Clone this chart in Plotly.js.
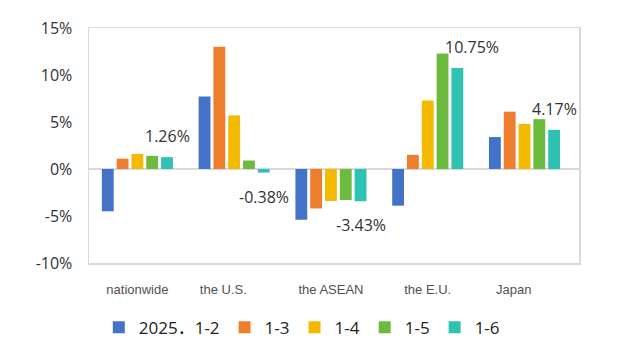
<!DOCTYPE html>
<html>
<head>
<meta charset="utf-8">
<script src="https://cdn.plot.ly/plotly-3.0.1.min.js"></script>
<style>html,body{margin:0;padding:0;background:#fff;}#chart{width:624px;height:357px;}</style>
</head>
<body>
<div id="chart"></div>
<script>
const categories = ['nationwide', 'the U.S.', 'the ASEAN', 'the E.U.', 'Japan'];
const seriesNames = ['2025．1-2', '1-3', '1-4', '1-5', '1-6'];
const s12 = [-4.5, 7.7, -5.4, -3.9, 3.4];
const s13 = [1.1, 13.0, -4.2, 1.5, 6.1];
const s14 = [1.6, 5.7, -3.4, 7.3, 4.8];
const s15 = [1.4, 0.9, -3.3, 12.3, 5.3];
const s16 = [1.26, -0.38, -3.43, 10.75, 4.17];
const labelText = ['1.26%', '-0.38%', '-3.43%', '10.75%', '4.17%'];
const yTicks = [-10, -5, 0, 5, 10, 15];
const colors = ['#4472C8', '#EF7D2E', '#F4BA00', '#6CBB3E', '#2EC2B2'];

const seriesValues = [s12, s13, s14, s15, s16];
const traces = seriesValues.map((vals, i) => ({
  type: 'bar',
  name: seriesNames[i],
  x: categories,
  y: vals,
  marker: {color: colors[i]},
  hoverinfo: 'skip'
}));

// style: extra horizontal nudge for labels that would overlap neighbours
const labelNudge = {'the E.U.': 14};
const annotations = categories.map((c, i) => ({
  x: c, y: s16[i], xref: 'x', yref: 'y',
  text: labelText[i], showarrow: false,
  xshift: 30 + (labelNudge[c] || 0), yshift: s16[i] >= 0 ? 21 : -24,
  font: {family: 'Open Sans, sans-serif', size: 16, color: '#333'}
}));

// style: tick label padding to mimic the reference's off-centre labels
const tickPad = {'the U.S.': '\u00a0\u00a0\u00a0\u00a0\u00a0\u00a0', 'Japan': '\u00a0\u00a0\u00a0\u00a0\u00a0\u00a0'};

const layout = {
  width: 624, height: 357,
  margin: {l: 89, r: 45, t: 28, b: 93},
  paper_bgcolor: '#fff', plot_bgcolor: '#fff',
  barmode: 'group', bargap: 0.235, bargroupgap: 0.2,
  showlegend: true,
  legend: {
    orientation: 'h', x: 0.02, xanchor: 'left', y: -0.27, yanchor: 'middle',
    font: {family: 'Open Sans, Noto Sans CJK SC, sans-serif', size: 17, color: '#222'},
    traceorder: 'normal'
  },
  xaxis: {
    type: 'category', showline: true, mirror: true, linecolor: '#d9d9d9', linewidth: 1.5,
    showgrid: false, ticks: '', ticklabelstandoff: 14,
    tickvals: categories, ticktext: categories.map(c => c + (tickPad[c] || '')),
    tickfont: {family: 'Liberation Sans, Arial, sans-serif', size: 13, color: '#505050'}
  },
  yaxis: {
    range: [-10, 15], tickvals: yTicks, ticktext: yTicks.map(v => v + '%'),
    showline: true, mirror: true, linecolor: '#d9d9d9', linewidth: 1.5,
    showgrid: false, zeroline: true, zerolinecolor: '#d9d9d9', zerolinewidth: 1.5,
    ticks: '', ticklabelstandoff: 12,
    tickfont: {family: 'Open Sans, sans-serif', size: 16, color: '#333'}
  },
  annotations: annotations
};

Plotly.newPlot('chart', traces, layout, {displayModeBar: false, staticPlot: true});
</script>
</body>
</html>
